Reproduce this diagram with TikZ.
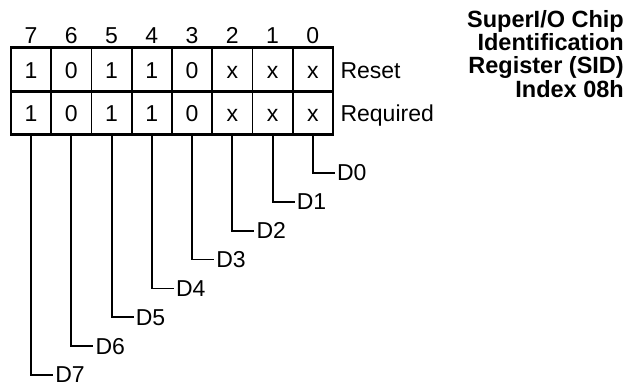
\documentclass[tikz,border=0pt]{standalone}
\usepackage{fontspec}
\setmainfont{Liberation Sans}
\usetikzlibrary{positioning}

\tikzset{
	cell/.style={draw,line width=1.6pt,minimum width=40.25pt,minimum height=43.5pt,
		inner sep=0pt,outer sep=0pt,text height=18pt,text depth=0pt},
	rowname/.style={anchor=west,text height=18pt,text depth=0pt},
	bitlabel/.style={anchor=west,inner sep=2pt},
	stem/.style={line width=1.8pt},
	frame/.style={line width=2.8pt}
}

\begin{document}
\begin{tikzpicture}[node distance=40.25pt,on grid,font=\fontsize{23}{27}\selectfont]
	\useasboundingbox (0,0) rectangle (643pt,-385pt);

	% reset row
	\node[cell] (s7) at (31.125pt,-69.5pt) {1};
	\node[cell] (s6) [right=of s7] {0};
	\node[cell] (s5) [right=of s6] {1};
	\node[cell] (s4) [right=of s5] {1};
	\node[cell] (s3) [right=of s4] {0};
	\node[cell] (s2) [right=of s3] {x};
	\node[cell] (s1) [right=of s2] {x};
	\node[cell] (s0) [right=of s1] {x};

	% required row
	\node[cell] (q7) [below=43.5pt of s7] {1};
	\node[cell] (q6) [right=of q7] {0};
	\node[cell] (q5) [right=of q6] {1};
	\node[cell] (q4) [right=of q5] {1};
	\node[cell] (q3) [right=of q4] {0};
	\node[cell] (q2) [right=of q3] {x};
	\node[cell] (q1) [right=of q2] {x};
	\node[cell] (q0) [right=of q1] {x};

	% bit numbers
	\node (n7) [above=34pt of s7] {7};
	\node (n6) [above=34pt of s6] {6};
	\node (n5) [above=34pt of s5] {5};
	\node (n4) [above=34pt of s4] {4};
	\node (n3) [above=34pt of s3] {3};
	\node (n2) [above=34pt of s2] {2};
	\node (n1) [above=34pt of s1] {1};
	\node (n0) [above=34pt of s0] {0};

	\draw[frame] (s7.north west) rectangle (q0.south east);
	\draw[frame] (s7.south west) -- (s0.south east);

	\node[rowname] (reset) at ([xshift=4pt]s0.east) {Reset};
	\node[rowname] (req) at ([xshift=4pt]q0.east) {Required};

	% bit labels
	\node[bitlabel] (d0) at ([xshift=22pt,yshift=-38.25pt]q0.south) {D0};
	\node[bitlabel] (d1) at ([xshift=22pt,yshift=-67.1pt]q1.south) {D1};
	\node[bitlabel] (d2) at ([xshift=22pt,yshift=-96pt]q2.south) {D2};
	\node[bitlabel] (d3) at ([xshift=22pt,yshift=-124.8pt]q3.south) {D3};
	\node[bitlabel] (d4) at ([xshift=22pt,yshift=-153.7pt]q4.south) {D4};
	\node[bitlabel] (d5) at ([xshift=22pt,yshift=-182.5pt]q5.south) {D5};
	\node[bitlabel] (d6) at ([xshift=22pt,yshift=-211.4pt]q6.south) {D6};
	\node[bitlabel] (d7) at ([xshift=22pt,yshift=-240.3pt]q7.south) {D7};

	\draw[stem] (q0.south) |- (d0.west);
	\draw[stem] (q1.south) |- (d1.west);
	\draw[stem] (q2.south) |- (d2.west);
	\draw[stem] (q3.south) |- (d3.west);
	\draw[stem] (q4.south) |- (d4.west);
	\draw[stem] (q5.south) |- (d5.west);
	\draw[stem] (q6.south) |- (d6.west);
	\draw[stem] (q7.south) |- (d7.west);

	\node[anchor=north east,align=right,inner sep=0pt,
		font=\bfseries\fontsize{23.5}{23.3}\selectfont] (title) at (624pt,-10pt)
		{SuperI/O Chip\\Identification\\Register (SID)\\Index 08h};
\end{tikzpicture}
\end{document}
